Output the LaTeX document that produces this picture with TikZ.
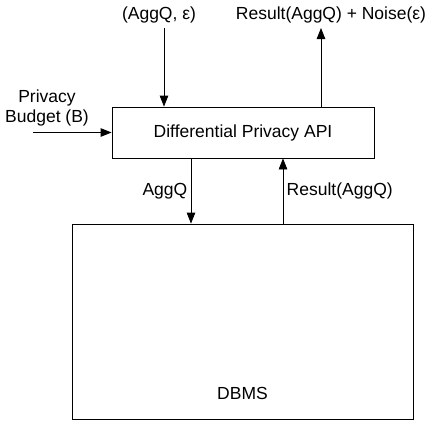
\documentclass[tikz,border=0pt]{standalone}
\usepackage{fontspec}
\setmainfont{Liberation Sans}
\usetikzlibrary{arrows.meta, positioning, calc}

\begin{document}
\begin{tikzpicture}[x=1pt, y=-1pt,
        box/.style={draw, line width=0.8pt},
        flow/.style={line width=0.8pt, -{Triangle[length=11pt, width=8.5pt]}},
        lbl/.style={font=\fontsize{17.5}{20}\selectfont}]
        \useasboundingbox (0,0) rectangle (426,423);

        % API and DBMS boxes
        \node[box, lbl, minimum width=262pt, minimum height=51pt] (api) at (243,132.5) {Differential Privacy API};
        \node[box, minimum width=341pt, minimum height=195pt] (dbms) at (242.5,321.5) {};
        \node[lbl] (dbmstxt) at ([yshift=26pt]dbms.south) {DBMS};

        % Outside labels
        \node[lbl] (query) at (159,15) {(AggQ, ε)};
        \node[lbl] (answer) at (331,15) {Result(AggQ) + Noise(ε)};
        \node[lbl, align=center] (budget) at (47,108) {Privacy\\Budget (B)};

        \coordinate (qin) at (164,28);
        \coordinate (resout) at (321,28);
        \coordinate (bin) at (33,132.5);
        \coordinate (qdown) at ([xshift=-52pt]api.south);
        \coordinate (rup) at ([xshift=40pt]api.south);

        % Flows
        \draw[flow] (qin) -- (qin |- api.north);
        \draw[flow] (resout |- api.north) -- (resout);
        \draw[flow] (bin) -- (api.west);
        \draw[flow] (qdown) -- (qdown |- dbms.north) node[lbl, midway, left] (aggq) {AggQ};
        \draw[flow] (rup |- dbms.north) -- (rup) node[lbl, midway, right] (result) {Result(AggQ)};
    \end{tikzpicture}
\end{document}
